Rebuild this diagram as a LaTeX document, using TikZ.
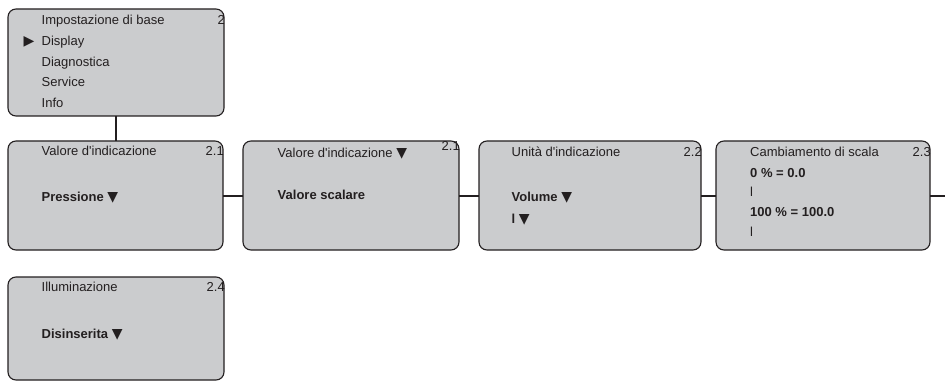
\documentclass[tikz,border=0pt]{standalone}
\usepackage{fontspec}
\setmainfont{Liberation Sans}[Ligatures=TeXOff]
\newfontfamily\symfont{DejaVu Sans}
\definecolor{boxfill}{HTML}{CBCCCE}
\definecolor{ink}{HTML}{231F20}
\newcommand{\dnarrow}{{\symfont\mdseries\fontsize{14}{15}\selectfont ▼}}
\begin{document}
\begin{tikzpicture}[x=1pt,y=-1pt,
  panel/.style={draw=ink, fill=boxfill, line width=1.1pt, rounded corners=8pt, anchor=north west, inner sep=0pt, outer sep=0pt},
  txt/.style={anchor=base west, inner sep=0pt, text=ink, font=\fontsize{13}{15}\selectfont},
  btxt/.style={txt, font=\fontsize{13}{15}\selectfont\bfseries},
  num/.style={anchor=base east, inner sep=0pt, text=ink, font=\fontsize{13}{15}\selectfont},
  link/.style={draw=ink, line width=2.2pt}]
\useasboundingbox (0,0) rectangle (945,382);
% boxes
\node[panel, minimum width=216pt, minimum height=107pt] (menu) at (8,9) {};
\node[panel, minimum width=215pt, minimum height=109pt] (b21) at (8,141) {};
\node[panel, minimum width=216pt, minimum height=109pt] (b21b) at (243,141) {};
\node[panel, minimum width=222pt, minimum height=109pt] (b22) at (479,141) {};
\node[panel, minimum width=214pt, minimum height=109pt] (b23) at (716,141) {};
\node[panel, minimum width=216pt, minimum height=103pt] (b24) at (8,277) {};
\coordinate (tail) at (945,196);
% connectors
\draw[link] (menu.south) -- (menu.south |- b21.north);
\draw[link] ([yshift=-0.5pt]b21.east) -- ([yshift=-0.5pt]b21b.west);
\draw[link] ([yshift=-0.5pt]b21b.east) -- ([yshift=-0.5pt]b22.west);
\draw[link] ([yshift=-0.5pt]b22.east) -- ([yshift=-0.5pt]b23.west);
\draw[link] ([yshift=-0.5pt]b23.east) -- (tail);
% menu texts
\node[txt] (m1) at (41.5,24.5) {Impostazione di base};
\node[num] (m0) at (225,24.5) {2};
\node[txt] (m2) at (41.5,45.5) {Display};
\node[txt] (m2a) at (23.5,46) {\symfont\fontsize{14}{15}\selectfont ▶};
\node[txt] (m3) at (41.5,66.5) {Diagnostica};
\node[txt] (m4) at (41.5,87) {Service};
\node[txt] (m5) at (41.5,108) {Info};
% box 2.1
\node[txt] (t21) at (41.5,155.5) {Valore d'indicazione};
\node[num] (n21) at (224,155.5) {2.1};
\node[btxt] (v21) at (41.5,201.5) {Pressione \dnarrow};
% box 2.1 b
\node[txt] (t21b) at (277.5,158) {Valore d'indicazione \dnarrow};
\node[num] (n21b) at (460,151) {2.1};
\node[btxt] (v21b) at (277.5,200) {Valore scalare};
% box 2.2
\node[txt] (t22) at (511.5,156.5) {Unità d'indicazione};
\node[num] (n22) at (702,156.5) {2.2};
\node[btxt] (v22a) at (511.5,201.5) {Volume \dnarrow};
\node[btxt] (v22b) at (511.5,223) {l \dnarrow};
% box 2.3
\node[txt] (t23) at (750,156.5) {Cambiamento di scala};
\node[num] (n23) at (931,156.5) {2.3};
\node[btxt] (v23a) at (750,177.5) {0 \% = 0.0};
\node[txt] (v23b) at (750,196.5) {l};
\node[btxt] (v23c) at (750,216.5) {100 \% = 100.0};
\node[txt] (v23d) at (750,236.5) {l};
% box 2.4
\node[txt] (t24) at (41.5,291.5) {Illuminazione};
\node[num] (n24) at (225,291.5) {2.4};
\node[btxt] (v24) at (41.5,338) {Disinserita \dnarrow};
\end{tikzpicture}
\end{document}
